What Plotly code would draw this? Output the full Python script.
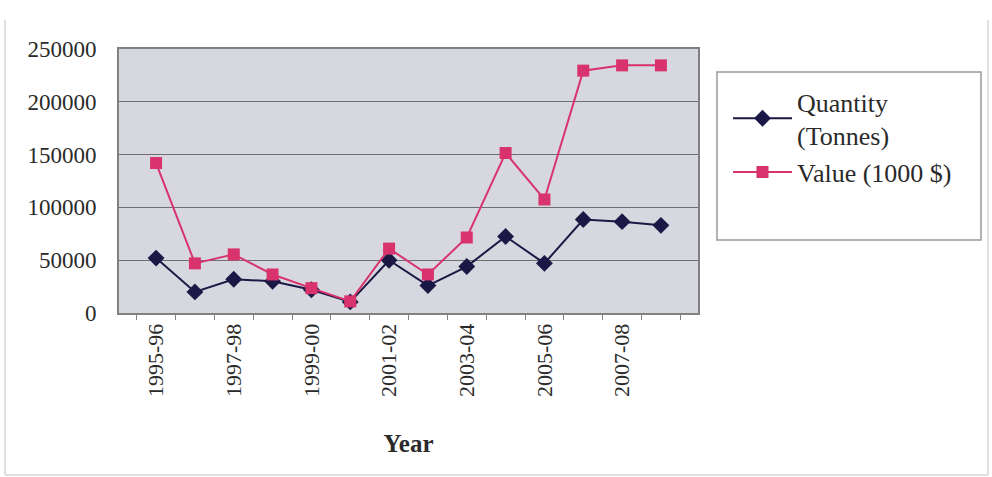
import plotly.graph_objects as go

years = ["1995-96", "1996-97", "1997-98", "1998-99", "1999-00", "2000-01", "2001-02",
         "2002-03", "2003-04", "2004-05", "2005-06", "2006-07", "2007-08", "2008-09"]
quantity = [52000, 20000, 32000, 30000, 22000, 10500, 50000,
            26000, 44000, 72500, 47000, 88500, 86500, 83000]
value = [142000, 47000, 55500, 36500, 23500, 11000, 61000,
         36500, 71500, 151500, 107500, 229500, 234500, 234500]
# every other year is labelled on the x axis
tick_text = [y if i % 2 == 0 else "" for i, y in enumerate(years)]

serif = "Liberation Serif, Times New Roman, serif"
navy = "#1b1846"
pink = "#d8336c"


def px_x(p):
    # figure pixel -> paper x
    return (p - 119) / 579


def px_y(p):
    # figure pixel -> paper y
    return (313 - p) / 264


fig = go.Figure()
fig.add_trace(go.Scatter(
    x=years, y=quantity, name="Quantity<br>(Tonnes)", mode="lines+markers",
    line=dict(color=navy, width=2),
    marker=dict(symbol="diamond", size=13, color=navy),
))
fig.add_trace(go.Scatter(
    x=years, y=value, name="Value (1000 $)", mode="lines+markers",
    line=dict(color=pink, width=2),
    marker=dict(symbol="square", size=12, color=pink),
))

frame = dict(color="#e0e0e0", width=2)
fig.update_layout(
    width=992, height=477,
    margin=dict(l=119, r=294, t=49, b=164),
    paper_bgcolor="white",
    plot_bgcolor="#d7d7df",
    font=dict(family=serif, size=22, color="#2a2a2a"),
    legend=dict(
        x=px_x(728), y=px_y(78), xanchor="left", yanchor="top",
        font=dict(family=serif, size=26, color="#2a2a2a"),
        bgcolor="rgba(0,0,0,0)", borderwidth=0,
        itemwidth=59, tracegroupgap=0,
    ),
    shapes=[
        # legend frame
        dict(type="rect", xref="paper", yref="paper",
             x0=px_x(717), x1=px_x(981), y0=px_y(240), y1=px_y(72),
             line=dict(color="#9a9a9a", width=1.5), layer="below"),
        # outer chart frame: left, bottom, right edges
        dict(type="line", xref="paper", yref="paper",
             x0=px_x(5), x1=px_x(5), y0=px_y(475), y1=px_y(20), line=frame),
        dict(type="line", xref="paper", yref="paper",
             x0=px_x(5), x1=px_x(988), y0=px_y(475), y1=px_y(475), line=frame),
        dict(type="line", xref="paper", yref="paper",
             x0=px_x(988), x1=px_x(988), y0=px_y(475), y1=px_y(20), line=frame),
    ],
)

fig.update_xaxes(
    type="category", categoryorder="array", categoryarray=years,
    tickvals=years, ticktext=tick_text, tickangle=-90,
    tickson="boundaries", ticks="outside", ticklen=5, tickcolor="#808080",
    showgrid=False, showline=True, linecolor="#808080", linewidth=2, mirror=True,
    tickfont=dict(family=serif, size=22, color="#2a2a2a"),
    title=dict(text="<b>Year</b>", font=dict(family=serif, size=25, color="#2a2a2a"),
               standoff=38),
)
fig.update_yaxes(
    range=[0, 250000], dtick=50000, tickformat="d",
    showgrid=True, gridcolor="#6f6f6f", gridwidth=1,
    showline=True, linecolor="#808080", linewidth=2, mirror=True,
    ticks="", ticklabelstandoff=16,
    tickfont=dict(family=serif, size=23, color="#2a2a2a"),
    zeroline=False,
)

fig.write_html("out.html")
